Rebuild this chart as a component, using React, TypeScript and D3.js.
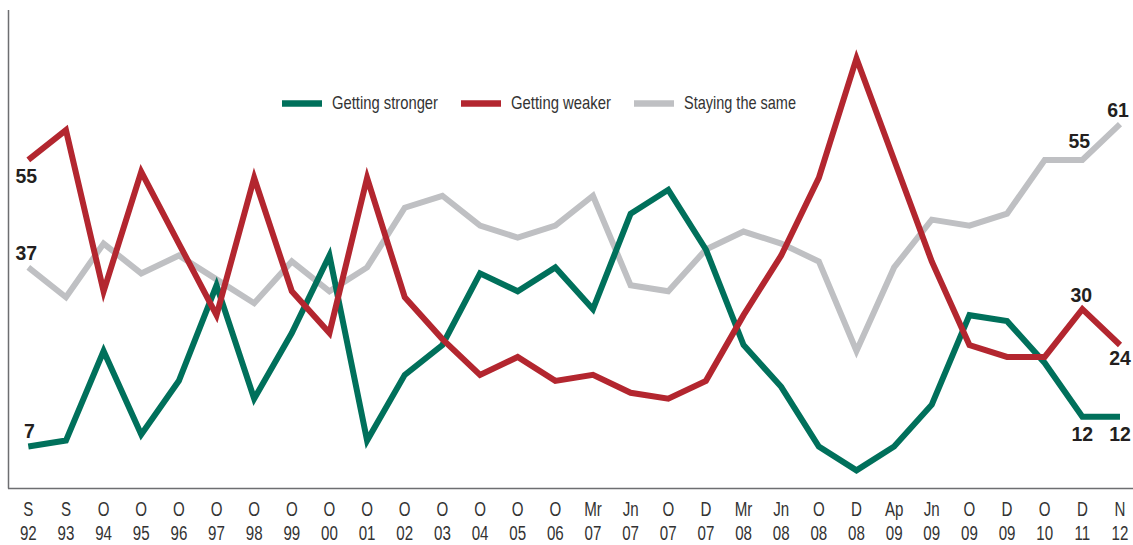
import React from 'react'
import * as d3 from 'd3'

const months = ['S', 'S', 'O', 'O', 'O', 'O', 'O', 'O', 'O', 'O', 'O', 'O', 'O', 'O', 'O', 'Mr', 'Jn', 'O', 'D', 'Mr', 'Jn', 'O', 'D', 'Ap', 'Jn', 'O', 'D', 'O', 'D', 'N']
const years = ['92', '93', '94', '95', '96', '97', '98', '99', '00', '01', '02', '03', '04', '05', '06', '07', '07', '07', '07', '08', '08', '08', '08', '09', '09', '09', '09', '10', '11', '12']

const stronger = [7, 8, 23, 9, 18, 34, 15, 26, 39, 8, 19, 24, 36, 33, 37, 30, 46, 50, 40, 24, 17, 7, 3, 7, 14, 29, 28, 21, 12, 12]
const weaker = [55, 60, 33, 53, 41, 29, 52, 33, 26, 52, 32, 25, 19, 22, 18, 19, 16, 15, 18, 29, 39, 52, 72, 55, 38, 24, 22, 22, 30, 24]
const same = [37, 32, 41, 36, 39, 35, 31, 38, 33, 37, 47, 49, 44, 42, 44, 49, 34, 33, 40, 43, 41, 38, 23, 37, 45, 44, 46, 55, 55, 61]

const seriesNames = ['Getting stronger', 'Getting weaker', 'Staying the same']
const seriesColors = ['#00705b', '#b3262f', '#bfc0c3']

// labels on the line: [series, index, dx, dy]
const callouts: [number, number, number, number][] = [
  [1, 0, -2, 23],
  [2, 0, -2, -7],
  [0, 0, 1, -9],
  [2, 28, -3, -12],
  [2, 29, -2, -7],
  [1, 28, -1, -7],
  [1, 29, 0, 20],
  [0, 28, 0, 24],
  [0, 29, 0, 24]
]

const W = 1133
const H = 545
const font = '"Liberation Sans", Arial, sans-serif'

export default function App () {
  const allSeries = [stronger, weaker, same]
  const idx = d3.range(months.length)
  const x = d3.scalePoint<number>().domain(idx).range([28.3, 1120])
  const y = d3.scaleLinear().domain([0, 80]).range([488.3, 10.7])

  const line = d3.line<number>()
    .x((d, i) => x(i) as number)
    .y(d => y(d))

  const order = [2, 0, 1]
  const legendX = [282, 461, 634]
  const legendW = [106, 100, 112]

  return (
    <svg width={W} height={H} style={{ position: 'absolute', left: 0, top: 0 }}>
      <rect width={W} height={H} fill='#fff' />
      <line x1={8.5} x2={8.5} y1={10} y2={488.5} stroke='#6d6e71' strokeWidth={1.5} />
      <line x1={8} x2={W} y1={488.5} y2={488.5} stroke='#6d6e71' strokeWidth={1.5} />

      {order.map(s => (
        <path key={s} d={line(allSeries[s]) || ''} fill='none'
          stroke={seriesColors[s]} strokeWidth={6} strokeLinejoin='miter' strokeMiterlimit={10} />
      ))}

      {seriesNames.map((name, i) => (
        <g key={name}>
          <line x1={legendX[i]} x2={legendX[i] + 40} y1={103.5} y2={103.5} stroke={seriesColors[i]} strokeWidth={6.5} />
          <text x={legendX[i] + 50} y={109} fontFamily={font} textLength={legendW[i]} lengthAdjust='spacingAndGlyphs'
            fontSize={19} fill='#333'>{name}</text>
        </g>
      ))}

      {callouts.map(([s, i, dx, dy], k) => (
        <g key={k} transform={`translate(${(x(i) as number) + dx},${y(allSeries[s][i]) + dy}) scale(0.95,1)`}>
          <text textAnchor='middle' fontFamily={font} fontWeight='bold' fontSize={20.5} fill='#231f20'>
            {allSeries[s][i]}
          </text>
        </g>
      ))}

      {idx.map(i => (
        <g key={i} fontFamily={font} fontSize={21} fill='#333' textAnchor='middle'>
          <g transform={`translate(${x(i)},516) scale(0.72,1)`}>
            <text>{months[i]}</text>
          </g>
          <g transform={`translate(${x(i)},539.5) scale(0.72,1)`}>
            <text>{years[i]}</text>
          </g>
        </g>
      ))}
    </svg>
  )
}
